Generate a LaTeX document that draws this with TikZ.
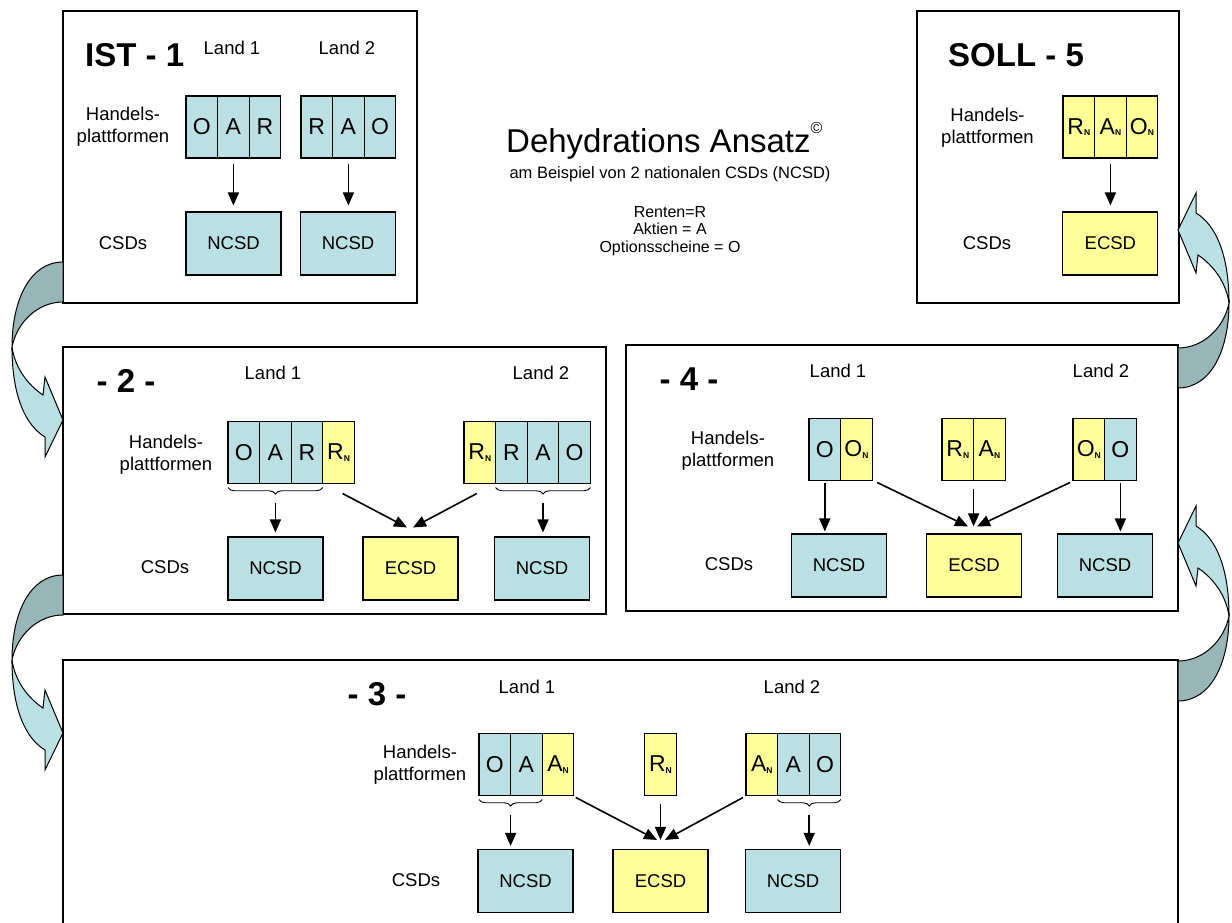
\documentclass[tikz,border=0pt]{standalone}
\usepackage{fontspec}
\setmainfont{Liberation Sans}
\usetikzlibrary{arrows.meta,decorations.pathreplacing}

\definecolor{hellblau}{RGB}{187,224,227}
\definecolor{hellgelb}{RGB}{255,255,153}
\definecolor{graublau}{RGB}{152,181,184}

\newcommand{\nidx}{\raisebox{-1.5pt}{\fontsize{8.5}{8.5}\selectfont\bfseries N}}

\tikzset{
  rahmen/.style={draw=black, line width=1.4pt, fill=white},
  zelle/.style={draw=black, line width=1.1pt, outer sep=0pt, inner sep=0pt,
    minimum width=31.6pt, minimum height=62pt, font=\fontsize{23}{23}\selectfont},
  blau/.style={zelle, fill=hellblau},
  gelb/.style={zelle, fill=hellgelb},
  csd/.style={draw=black, line width=1.1pt, inner sep=0pt,
    minimum width=95pt, minimum height=63pt, font=\fontsize{18.5}{18.5}\selectfont},
  ncsd/.style={csd, fill=hellblau},
  ecsd/.style={csd, fill=hellgelb},
  lbl/.style={inner sep=0pt, align=center, font=\fontsize{18.5}{22}\selectfont},
  nummer/.style={inner sep=0pt, font=\fontsize{33}{33}\selectfont\bfseries},
  legende/.style={inner sep=0pt, anchor=base, font=\fontsize{16}{16}\selectfont},
  pfeil/.style={line width=1.6pt, -{Triangle[length=13pt,width=11pt]}},
  klammer/.style={draw, line width=0.9pt, decorate,
    decoration={brace, mirror, amplitude=6.5pt, raise=4pt}},
  bogen/.pic={
    \filldraw[fill=graublau, draw=black, line width=1pt]
      (63,262) .. controls (30,262) and (12,300) .. (12,347)
      .. controls (17,322) and (38,302) .. (63,302) -- cycle;
    \filldraw[fill=hellblau, draw=black, line width=1pt]
      (12,347) .. controls (15,368) and (28,385) .. (43,395)
      -- (45,377) -- (63,420) -- (45,457) -- (45,437)
      .. controls (25,425) and (12,395) .. (12,347) -- cycle;
  }
}

\begin{document}
\begin{tikzpicture}[x=1pt, y=-1pt]
  \path[use as bounding box, fill=white] (0,0) rectangle (1232,923);

  \draw[rahmen] (63,11) rectangle (417,303);
  \node[nummer, anchor=base west] (t1) at (85,66.5) {IST - 1};
  \node[lbl] (p1l1) at (232,48) {Land 1};
  \node[lbl] (p1l2) at (347,48) {Land 2};
  \node[lbl] (p1h) at (123,126.5) {Handels-\\plattformen};
  \node[lbl] (p1csd) at (123,243) {CSDs};
  \node[blau] (p1a1) at (201.8,127) {O};
  \node[blau] (p1a2) at (233.4,127) {A};
  \node[blau] (p1a3) at (265,127) {R};
  \node[blau] (p1b1) at (316.8,127) {R};
  \node[blau] (p1b2) at (348.4,127) {A};
  \node[blau] (p1b3) at (380,127) {O};
  \node[ncsd] (p1n1) at (233.5,243.5) {NCSD};
  \node[ncsd] (p1n2) at (348,243.5) {NCSD};
  \draw[pfeil, shorten <=6pt, shorten >=6pt] (p1a2.south) -- (p1a2.south |- p1n1.north);
  \draw[pfeil, shorten <=6pt, shorten >=6pt] (p1b2.south) -- (p1b2.south |- p1n2.north);

  \draw[rahmen] (917,11) rectangle (1179,303);
  \node[nummer, anchor=base west] (t5) at (948,66.5) {SOLL - 5};
  \node[lbl] (p5h) at (987.5,127.5) {Handels-\\plattformen};
  \node[lbl] (p5csd) at (987,243) {CSDs};
  \node[gelb] (p5a1) at (1078.8,127) {R\nidx};
  \node[gelb] (p5a2) at (1110.4,127) {A\nidx};
  \node[gelb] (p5a3) at (1142,127) {O\nidx};
  \node[ecsd] (p5e) at (1110.4,243.5) {ECSD};
  \draw[pfeil, shorten <=6pt, shorten >=6pt] (p5a2.south) -- (p5e.north);

  \node[anchor=base west, inner sep=0pt, font=\fontsize{33}{33}\selectfont] (haupttitel) at (506,153)
    {Dehydrations Ansatz\raisebox{19pt}{\fontsize{16}{16}\selectfont\textcopyright}};
  \node[legende, font=\fontsize{16.5}{16.5}\selectfont] (untertitel) at (670,178.5)
    {am Beispiel von 2 nationalen CSDs (NCSD)};
  \node[legende] (leg1) at (670,217) {Renten=R};
  \node[legende] (leg2) at (670,234.5) {Aktien = A};
  \node[legende] (leg3) at (670,252) {Optionsscheine = O};

  \draw[rahmen] (63,347) rectangle (606,614);
  \node[nummer, anchor=base] (t2) at (126,392) {- 2 -};
  \node[lbl] (p2l1) at (273,373) {Land 1};
  \node[lbl] (p2l2) at (541,373) {Land 2};
  \node[lbl] (p2h) at (166,454.5) {Handels-\\plattformen};
  \node[lbl] (p2csd) at (165,567) {CSDs};
  \node[blau] (p2a1) at (243.8,452.5) {O};
  \node[blau] (p2a2) at (275.4,452.5) {A};
  \node[blau] (p2a3) at (307,452.5) {R};
  \node[gelb] (p2a4) at (338.6,452.5) {R\nidx};
  \node[gelb] (p2b1) at (479.8,452.5) {R\nidx};
  \node[blau] (p2b2) at (511.4,452.5) {R};
  \node[blau] (p2b3) at (543,452.5) {A};
  \node[blau] (p2b4) at (574.6,452.5) {O};
  \node[ncsd] (p2n1) at (275.5,568.5) {NCSD};
  \node[ecsd] (p2e) at (410.5,568.5) {ECSD};
  \node[ncsd] (p2n2) at (542,568.5) {NCSD};
  \draw[klammer] (p2a1.south west) -- (p2a3.south east);
  \draw[klammer] (p2b2.south west) -- (p2b4.south east);
  \draw[pfeil, shorten <=19pt, shorten >=4pt] (p2a2.south) -- (p2a2.south |- p2n1.north);
  \draw[pfeil] ([shift={(4,10)}]p2a4.south) -- ([shift={(-3.5,-9)}]p2e.north);
  \draw[pfeil] ([shift={(-3,10)}]p2b1.south) -- ([shift={(2.5,-9)}]p2e.north);
  \draw[pfeil, shorten <=19pt, shorten >=4pt] (p2b3.south) -- (p2b3.south |- p2n2.north);

  \draw[rahmen] (626,345) rectangle (1178,611);
  \node[nummer, anchor=base] (t4) at (689,390) {- 4 -};
  \node[lbl] (p4l1) at (838,371) {Land 1};
  \node[lbl] (p4l2) at (1101,371) {Land 2};
  \node[lbl] (p4h) at (728,451) {Handels-\\plattformen};
  \node[lbl] (p4csd) at (729,564) {CSDs};
  \node[blau] (p4a1) at (824.8,449.5) {O};
  \node[gelb] (p4a2) at (856.4,449.5) {O\nidx};
  \node[gelb] (p4b1) at (957.8,449.5) {R\nidx};
  \node[gelb] (p4b2) at (989.4,449.5) {A\nidx};
  \node[gelb] (p4c1) at (1088.8,449.5) {O\nidx};
  \node[blau] (p4c2) at (1120.4,449.5) {O};
  \node[ncsd] (p4n1) at (839,565.5) {NCSD};
  \node[ecsd] (p4e) at (974,565.5) {ECSD};
  \node[ncsd] (p4n2) at (1105,565.5) {NCSD};
  \draw[pfeil, shorten <=2pt, shorten >=2pt] (p4a1.south) -- (p4a1.south |- p4n1.north);
  \draw[pfeil] ([shift={(5,2)}]p4a2.south east) -- ([shift={(-6,-7)}]p4e.north);
  \draw[pfeil, shorten <=8pt, shorten >=7pt] (p4b1.south east) -- (p4b1.south east |- p4e.north);
  \draw[pfeil] ([shift={(-3,2)}]p4c1.south west) -- ([shift={(3,-7)}]p4e.north);
  \draw[pfeil, shorten <=2pt, shorten >=2pt] (p4c2.south) -- (p4c2.south |- p4n2.north);

  \draw[rahmen] (63,660) rectangle (1178,940);
  \node[nummer, anchor=base] (t3) at (377,705) {- 3 -};
  \node[lbl] (p3l1) at (527,686.5) {Land 1};
  \node[lbl] (p3l2) at (792,686.5) {Land 2};
  \node[lbl] (p3h) at (420,765) {Handels-\\plattformen};
  \node[lbl] (p3csd) at (416,880) {CSDs};
  \node[blau] (p3a1) at (494.8,764.5) {O};
  \node[blau] (p3a2) at (526.4,764.5) {A};
  \node[gelb] (p3a3) at (558,764.5) {A\nidx};
  \node[gelb] (p3b1) at (660.5,764.5) {R\nidx};
  \node[gelb] (p3c1) at (761.8,764.5) {A\nidx};
  \node[blau] (p3c2) at (793.4,764.5) {A};
  \node[blau] (p3c3) at (825,764.5) {O};
  \node[ncsd] (p3n1) at (525.5,881) {NCSD};
  \node[ecsd] (p3e) at (660.5,881) {ECSD};
  \node[ncsd] (p3n2) at (793,881) {NCSD};
  \draw[klammer] (p3a1.south west) -- (p3a2.south east);
  \draw[klammer] (p3c2.south west) -- (p3c3.south east);
  \draw[pfeil, shorten <=19pt, shorten >=3pt] (p3a1.south east) -- (p3a1.south east |- p3n1.north);
  \draw[pfeil] ([shift={(2,2)}]p3a3.south east) -- ([shift={(-3.5,-9)}]p3e.north);
  \draw[pfeil, shorten <=8pt, shorten >=9pt] (p3b1.south) -- (p3e.north);
  \draw[pfeil] ([shift={(-3,2)}]p3c1.south west) -- ([shift={(4.5,-9)}]p3e.north);
  \draw[pfeil, shorten <=19pt, shorten >=3pt] (p3c2.south east) -- (p3c2.south east |- p3n2.north);

  \pic at (0,0) {bogen};
  \pic at (0,313) {bogen};
  \pic[rotate=180] at (1241,650) {bogen};
  \pic[rotate=180] at (1241,963) {bogen};
\end{tikzpicture}
\end{document}
